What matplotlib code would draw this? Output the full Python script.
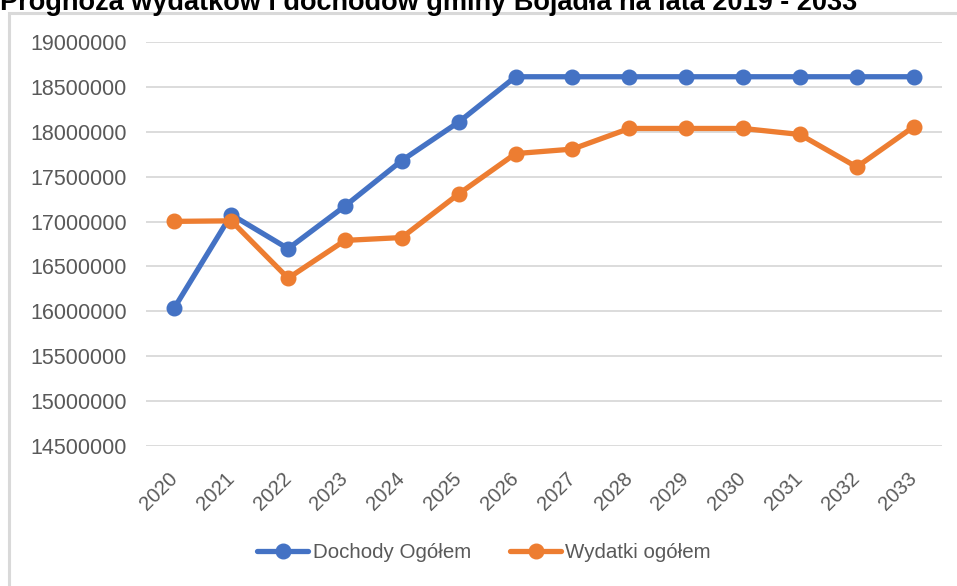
import matplotlib
matplotlib.use("Agg")
import matplotlib.pyplot as plt
from matplotlib.patches import Rectangle

# dane
lata = [str(r) for r in range(2020, 2034)]
dochody = [16040000, 17077000, 16698000, 17173000, 17680000, 18108000,
           18613000, 18613000, 18613000, 18613000, 18613000, 18613000,
           18613000, 18613000]
wydatki = [17002000, 17008000, 16369000, 16790000, 16822000, 17308000,
           17757000, 17807000, 18037000, 18037000, 18037000, 17970000,
           17608000, 18055000]
y_ticks = list(range(14500000, 19000001, 500000))

tytul = "Prognoza wydatków i dochodów gminy Bojadła na lata 2019 - 2033"

plt.rcParams['font.family'] = ['Liberation Sans', 'DejaVu Sans']

W, H = 957, 586
fig = plt.figure(figsize=(W / 100, H / 100), dpi=100)

# ramka obszaru wykresu (szara)
fig.patches.append(Rectangle((9 / W, -0.1), 1.2, 1.1 - 13 / H,
                             transform=fig.transFigure, fill=False,
                             edgecolor='#D9D9D9', linewidth=2.2))

ax = fig.add_axes([146 / W, 1 - 446 / H, (942 - 146) / W, (446 - 42) / H])

x = list(range(len(lata)))
ax.plot(x, dochody, color='#4472C4', lw=3.8, marker='o', ms=10.5,
        label='Dochody Ogółem', zorder=3, solid_capstyle='round')
ax.plot(x, wydatki, color='#ED7D31', lw=3.8, marker='o', ms=10.5,
        label='Wydatki ogółem', zorder=3, solid_capstyle='round')

ax.set_xlim(-0.5, len(lata) - 0.5)
ax.set_ylim(14500000, 19000000)
ax.set_yticks(y_ticks)
ax.set_yticklabels([str(v) for v in y_ticks])
ax.set_xticks(x)
ax.set_xticklabels(lata, rotation=45, ha='right', va='center',
                   rotation_mode='anchor')

ax.grid(axis='y', color='#D9D9D9', lw=1.3)
ax.set_axisbelow(True)
for s in ax.spines.values():
    s.set_visible(False)
ax.tick_params(axis='both', length=0, colors='#595959')
ax.tick_params(axis='y', labelsize=15.5, pad=14)
ax.tick_params(axis='x', labelsize=14.5, pad=21)

leg = fig.legend(loc='center', bbox_to_anchor=(484 / W, 1 - 553 / H),
                 ncol=2, frameon=False, fontsize=14.8, handlelength=2.5,
                 handletextpad=0.2, columnspacing=1.9, labelcolor='#595959')

fig.text(0, 1 - 10 / H, tytul, fontsize=19.5, fontweight='bold',
         ha='left', va='baseline', color='black')

fig.savefig("out.png", dpi=100)
